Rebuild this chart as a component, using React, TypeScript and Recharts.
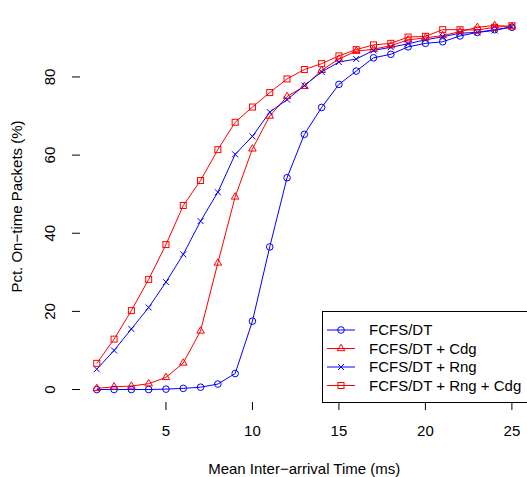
import { LineChart, Line, XAxis, YAxis, ReferenceArea } from 'recharts';

const arrivalTimes = [1, 2, 3, 4, 5, 6, 7, 8, 9, 10, 11, 12, 13, 14, 15, 16, 17, 18, 19, 20, 21, 22, 23, 24, 25];
const fcfsDt = [0, 0, 0, 0, 0.1, 0.3, 0.6, 1.4, 4.1, 17.5, 36.5, 54.2, 65.3, 72.2, 78.1, 81.5, 84.9, 85.8, 87.7, 88.6, 89.0, 90.5, 91.4, 92.1, 92.7];
const fcfsCdg = [0.3, 0.7, 0.9, 1.5, 3.1, 6.8, 15.0, 32.4, 49.3, 61.6, 70.0, 75.0, 77.6, 81.7, 84.6, 86.6, 87.1, 88.0, 89.5, 90.0, 90.6, 91.6, 92.7, 93.2, 92.9];
const fcfsRng = [5.2, 10.0, 15.5, 21.0, 27.5, 34.6, 43.1, 50.5, 60.2, 64.8, 71.0, 74.2, 77.8, 81.3, 83.8, 84.6, 86.8, 87.6, 88.5, 89.5, 90.3, 91.2, 91.4, 91.9, 92.9];
const fcfsRngCdg = [6.7, 12.9, 20.2, 28.2, 37.1, 47.1, 53.5, 61.4, 68.4, 72.3, 76.0, 79.5, 81.9, 83.4, 85.4, 87.0, 88.2, 88.6, 90.2, 90.4, 92.1, 92.1, 92.0, 92.7, 93.1];
const xTicks = [5, 10, 15, 20, 25];
const yTicks = [0, 20, 40, 60, 80];

type Shape = 'circle' | 'triangle' | 'cross' | 'square';

const series: { key: string; name: string; color: string; shape: Shape }[] = [
  { key: 'fcfs', name: 'FCFS/DT', color: '#0000ff', shape: 'circle' },
  { key: 'cdg', name: 'FCFS/DT + Cdg', color: '#ff0000', shape: 'triangle' },
  { key: 'rng', name: 'FCFS/DT + Rng', color: '#0000ff', shape: 'cross' },
  { key: 'rngCdg', name: 'FCFS/DT + Rng + Cdg', color: '#ff0000', shape: 'square' },
];

const data = arrivalTimes.map((x, i) => ({
  x,
  fcfs: fcfsDt[i],
  cdg: fcfsCdg[i],
  rng: fcfsRng[i],
  rngCdg: fcfsRngCdg[i],
}));

const FONT = '"Liberation Sans", Arial, Helvetica, sans-serif';

function Marker({ cx, cy, shape, color }: { cx: number; cy: number; shape: Shape; color: string }) {
  const common = { fill: 'none', stroke: color, strokeWidth: 1 };
  if (shape === 'circle') return <circle cx={cx} cy={cy} r={3.3} {...common} />;
  if (shape === 'square') return <rect x={cx - 3} y={cy - 3} width={6} height={6} {...common} />;
  if (shape === 'triangle')
    return <polygon points={`${cx},${cy - 4.2} ${cx - 3.8},${cy + 2.2} ${cx + 3.8},${cy + 2.2}`} {...common} />;
  return <path d={`M${cx - 3},${cy - 3}L${cx + 3},${cy + 3}M${cx - 3},${cy + 3}L${cx + 3},${cy - 3}`} {...common} />;
}

function YTick({ x, y, payload }: any) {
  const bx = x - 15;
  return (
    <text x={bx} y={y} transform={`rotate(-90, ${bx}, ${y})`} textAnchor="middle" fontSize={15} fontFamily={FONT} fill="#000">
      {payload.value}
    </text>
  );
}

function XTick({ x, y, payload }: any) {
  return (
    <text x={x} y={y + 24} textAnchor="middle" fontSize={15} fontFamily={FONT} fill="#000">
      {payload.value}
    </text>
  );
}

function Legend() {
  return (
    <div
      style={{
        position: 'absolute',
        left: 322,
        top: 311,
        width: 210,
        height: 90,
        border: '1px solid #000',
        background: '#fff',
        fontFamily: FONT,
        fontSize: 15,
      }}
    >
      <svg width={210} height={90} style={{ position: 'absolute', left: 0, top: 0 }}>
        {series.map((s, i) => {
          const cy = 18 + i * 18.5;
          return (
            <g key={s.key}>
              <line x1={4} x2={32} y1={cy} y2={cy} stroke={s.color} strokeWidth={1} />
              <Marker cx={18} cy={cy} shape={s.shape} color={s.color} />
              <text x={46} y={cy + 5.3} fontSize={15} fontFamily={FONT} fill="#000">
                {s.name}
              </text>
            </g>
          );
        })}
      </svg>
    </div>
  );
}

export default function App() {
  return (
    <div style={{ position: 'absolute', left: 0, top: 0, width: 527, height: 477, overflow: 'hidden', background: '#fff' }}>
      <LineChart width={540} height={477} data={data} margin={{ top: 11, right: 11.5, bottom: 0, left: 0 }}>
        <XAxis
          type="number"
          dataKey="x"
          domain={[0.03, 25.96]}
          ticks={xTicks}
          allowDataOverflow
          axisLine={false}
          tickLine={{ stroke: '#000' }}
          tickSize={8}
          height={75}
          tick={<XTick />}
          label={({ viewBox }: any) => (
            <text
              x={viewBox.x + viewBox.width / 2}
              y={viewBox.y + 72}
              textAnchor="middle"
              fontSize={15}
              fontFamily={FONT}
              fill="#000"
            >
              Mean Inter−arrival Time (ms)
            </text>
          )}
        />
        <YAxis
          type="number"
          domain={[-3.19, 96.88]}
          ticks={yTicks}
          allowDataOverflow
          axisLine={false}
          tickLine={{ stroke: '#000' }}
          tickSize={8}
          width={80}
          tick={<YTick />}
          label={({ viewBox }: any) => {
            const cx = 22;
            const cy = viewBox.y + viewBox.height / 2;
            return (
              <text x={cx} y={cy} transform={`rotate(-90, ${cx}, ${cy})`} textAnchor="middle" fontSize={15} fontFamily={FONT} fill="#000">
                Pct. On−time Packets (%)
              </text>
            );
          }}
        />
        <ReferenceArea fill="none" stroke="#000" strokeWidth={1} fillOpacity={0} />
        {series.map((s) => (
          <Line
            key={s.key}
            type="linear"
            dataKey={s.key}
            name={s.name}
            stroke={s.color}
            strokeWidth={1}
            isAnimationActive={false}
            dot={(p: any) => <Marker key={`${s.key}-${p.index}`} cx={p.cx} cy={p.cy} shape={s.shape} color={s.color} />}
            activeDot={false}
          />
        ))}
      </LineChart>
      <Legend />
    </div>
  );
}
